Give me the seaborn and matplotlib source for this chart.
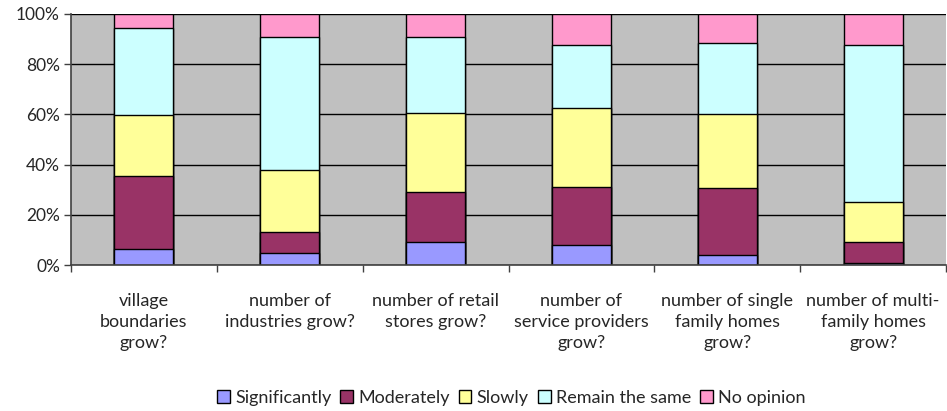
import matplotlib
matplotlib.use("Agg")
import matplotlib.pyplot as plt
import seaborn as sns
import pandas as pd
import numpy as np
from matplotlib.patches import Patch

categories = [
    "village\nboundaries\ngrow?",
    "number of\nindustries grow?",
    "number of retail\nstores grow?",
    "number of\nservice providers\ngrow?",
    "number of single\nfamily homes\ngrow?",
    "number of multi-\nfamily homes\ngrow?",
]
series_names = ["Significantly", "Moderately", "Slowly", "Remain the same", "No opinion"]
significantly = [6.4, 4.8, 9.0, 8.0, 4.0, 0.8]
moderately = [28.9, 8.5, 20.2, 23.2, 26.8, 8.4]
slowly = [24.4, 24.6, 31.2, 31.2, 29.2, 16.0]
remain_same = [34.6, 52.8, 30.3, 25.3, 28.6, 62.5]
no_opinion = [5.7, 9.3, 9.3, 12.3, 11.4, 12.3]
yticklabels = ["0%", "20%", "40%", "60%", "80%", "100%"]

colors = ["#9999FF", "#993366", "#FFFF99", "#CCFFFF", "#FF99CC"]

sns.set_theme(style="white")
plt.rcParams['font.family'] = ['Lato', 'DejaVu Sans']

values = np.array([significantly, moderately, slowly, remain_same, no_opinion])
totals = values.sum(axis=0)
pct = values / totals * 100
cum = np.cumsum(pct, axis=0)

fig = plt.figure(figsize=(9.47, 4.11), dpi=100)
ax = fig.add_axes([0.075, 0.355, 0.924, 0.611])
ax.set_facecolor("#C0C0C0")

for i in range(len(series_names) - 1, -1, -1):
    df = pd.DataFrame({"cat": categories, "val": cum[i]})
    sns.barplot(data=df, x="cat", y="val", color=colors[i], width=0.405,
                edgecolor="black", linewidth=1.0, ax=ax, saturation=1)

ax.set_xlim(-0.5, len(categories) - 0.5)
ax.set_ylim(0, 100)
ax.set_yticks([0, 20, 40, 60, 80, 100])
ax.set_yticklabels(yticklabels, fontsize=12.5)
ax.yaxis.grid(True, color="black", linewidth=1.0)
ax.set_axisbelow(True)
ax.set_xlabel("")
ax.set_ylabel("")
ax.set_xticks(np.arange(-0.5, len(categories), 1.0))
ax.set_xticklabels([])
ax.set_xticks(np.arange(len(categories)), minor=True)
ax.set_xticklabels(categories, minor=True, fontsize=13, linespacing=1.4)
ax.tick_params(axis="x", which="minor", length=0, pad=20)
ax.tick_params(axis="x", which="major", length=5, width=1, color="#404040", direction="out", bottom=True)
ax.tick_params(axis="y", length=5, width=1, color="#404040", direction="out", left=True, pad=3)
for s in ["top", "right"]:
    ax.spines[s].set_visible(False)
for s in ["left", "bottom"]:
    ax.spines[s].set_color("#404040")
    ax.spines[s].set_linewidth(1.2)

handles = [Patch(facecolor=c, edgecolor="black", linewidth=1.0) for c in colors]
fig.legend(handles, series_names, loc="center", bbox_to_anchor=(0.54, 0.032), ncol=5,
           frameon=False, fontsize=13, handlelength=0.7, handleheight=0.7,
           handletextpad=0.3, columnspacing=0.5)

fig.savefig("out.png", dpi=100)
